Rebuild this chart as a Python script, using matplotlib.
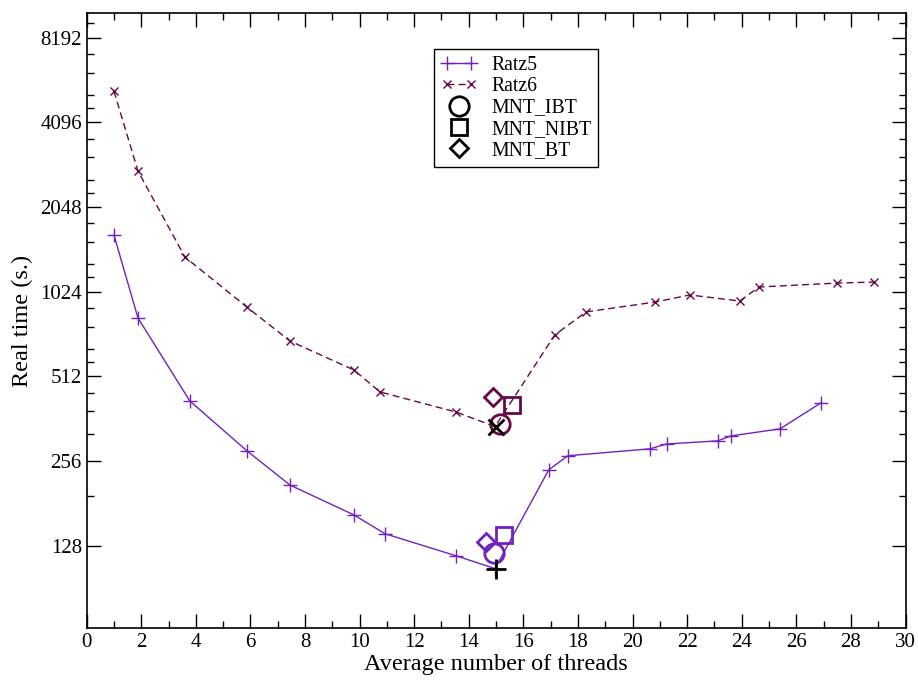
import numpy as np
import matplotlib
matplotlib.use("Agg")
import matplotlib.pyplot as plt
from matplotlib.ticker import FixedLocator, FixedFormatter, MultipleLocator
from matplotlib.legend_handler import HandlerLine2D

plt.rcParams['font.family'] = ['Liberation Serif', 'DejaVu Serif']

# Ratz5 series
ratz5_x = [1.0, 1.88, 3.78, 5.87, 7.45, 9.79, 10.93, 13.53, 14.96, 16.93, 17.63,
           20.63, 21.25, 23.12, 23.6, 25.4, 26.9]
ratz5_y = [1627, 825, 418, 278, 210, 164.5, 141, 117.7, 106, 238, 267,
           282.5, 294, 301.6, 314, 332.7, 411.5]

# Ratz6 series
ratz6_x = [1.0, 1.88, 3.6, 5.87, 7.45, 9.79, 10.75, 13.53, 14.96, 17.15, 18.3,
           20.83, 22.1, 23.93, 24.63, 27.5, 28.85]
ratz6_y = [5287, 2748, 1359, 902, 683, 539, 450, 382, 339, 718, 867,
           940, 996, 948, 1063, 1098, 1107]

# MNT points (x, y) for each series
mnt5_ibt = (14.93, 120.3)
mnt5_nibt = (15.29, 140)
mnt5_bt = (14.62, 131.6)
mnt6_ibt = (15.14, 346.5)
mnt6_nibt = (15.58, 405)
mnt6_bt = (14.88, 432)

# highlighted points
best5 = (15.0, 105.7)
best6 = (14.99, 337)

c5 = (114/255, 33/255, 188/255)
c6 = (103/255, 7/255, 72/255)

fig = plt.figure(figsize=(9.18, 6.81), dpi=100)
ax = fig.add_axes([0.0944, 0.0774, 0.892, 0.9031])

h1, = ax.plot(ratz5_x, ratz5_y, color=c5, lw=1.0, marker='+', ms=10, mew=1.0, label='Ratz5', zorder=3)
h2, = ax.plot(ratz6_x, ratz6_y, color=c6, lw=1.0, ls=(0, (5, 3)), marker='x', ms=6, mew=1.0,
              label='Ratz6', zorder=3)

mk = dict(ls='none', mfc='none', mew=2, zorder=4)
ax.plot(*mnt5_ibt, marker='o', ms=14, mec=c5, **mk)
ax.plot(*mnt5_nibt, marker='s', ms=11, mec=c5, **mk)
ax.plot(*mnt5_bt, marker='D', ms=9, mec=c5, **mk)
ax.plot(*mnt6_ibt, marker='o', ms=14, mec=c6, **mk)
ax.plot(*mnt6_nibt, marker='s', ms=11, mec=c6, **mk)
ax.plot(*mnt6_bt, marker='D', ms=9, mec=c6, **mk)

ax.plot(*best5, marker='+', ms=14, mew=2, color='black', zorder=5)
ax.plot(*best6, marker='x', ms=11, mew=2, color='black', zorder=5)

# legend-only handles
h3, = ax.plot([], [], ls='none', marker='o', ms=14, mfc='none', mec='black', mew=2, label='MNT_IBT')
h4, = ax.plot([], [], ls='none', marker='s', ms=11, mfc='none', mec='black', mew=2, label='MNT_NIBT')
h5, = ax.plot([], [], ls='none', marker='D', ms=9, mfc='none', mec='black', mew=2, label='MNT_BT')

ax.set_yscale('log', base=2)
ax.set_xlim(0, 30)
ax.set_ylim(65, 10000)

majors = [128, 256, 512, 1024, 2048, 4096, 8192]
ax.yaxis.set_major_locator(FixedLocator(majors))
ax.yaxis.set_major_formatter(FixedFormatter([str(m) for m in majors]))
minors = [192, 320, 384, 448]
for m in [512, 1024, 2048, 4096]:
    minors += [m * f for f in (1.125, 1.25, 1.5, 1.75)]
minors.append(8192 * 1.125)
ax.yaxis.set_minor_locator(FixedLocator(minors))
ax.yaxis.set_minor_formatter(FixedFormatter([]))

ax.xaxis.set_major_locator(MultipleLocator(2))
ax.xaxis.set_minor_locator(MultipleLocator(1))

ax.tick_params(which='both', direction='in', top=True, right=True, width=1, labelsize=15)
ax.tick_params(which='major', length=10)
ax.tick_params(which='minor', length=5)
for s in ax.spines.values():
    s.set_linewidth(1.2)

ax.set_xlabel('Average number of threads', fontsize=17.5, labelpad=1)
ax.set_ylabel('Real time (s.)', fontsize=17.5, labelpad=5)

one = HandlerLine2D(numpoints=1)
leg = ax.legend(handles=[h1, h2, h3, h4, h5], loc='upper left', bbox_to_anchor=(0.4242, 0.942),
                numpoints=2, fontsize=14.2, frameon=True, fancybox=False, edgecolor='black',
                framealpha=1, handlelength=1.85, handletextpad=0.7, labelspacing=0.12,
                borderpad=0.35, borderaxespad=0, handler_map={h3: one, h4: one, h5: one})
leg.get_frame().set_linewidth(1.0)

fig.savefig('out.png', dpi=100)
